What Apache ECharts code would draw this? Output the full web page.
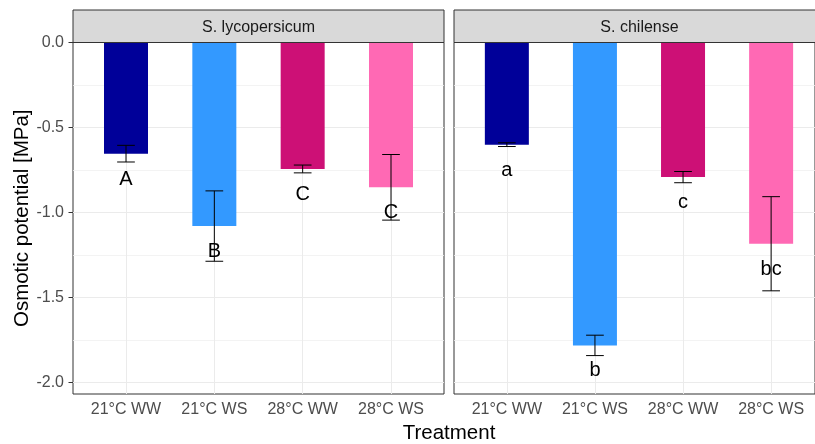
<!DOCTYPE html>
<html>
<head>
<meta charset="utf-8">
<script src="https://cdn.jsdelivr.net/npm/echarts@6/dist/echarts.min.js"></script>
<style>
html,body{margin:0;padding:0;background:#fff;}
#chart{width:815px;height:444px;}
</style>
</head>
<body>
<div id="chart"></div>
<script>
// ---- data ----
const categories = ['21°C WW', '21°C WS', '28°C WW', '28°C WS'];
const species = ['S. lycopersicum', 'S. chilense'];
const barColors = ['#000099', '#3399FF', '#CD1076', '#FF69B4'];

const lycoMean = [-0.654, -1.080, -0.744, -0.852];
const lycoSE = [0.049, 0.207, 0.023, 0.193];
const lycoLetters = ['A', 'B', 'C', 'C'];
const lycoLetterY = [-0.805, -1.230, -0.893, -1.000];

const chilMean = [-0.601, -1.782, -0.792, -1.184];
const chilSE = [0.011, 0.060, 0.033, 0.277];
const chilLetters = ['a', 'b', 'c', 'bc'];
const chilLetterY = [-0.752, -1.932, -0.942, -1.334];

const yTicks = [0, -0.5, -1.0, -1.5, -2.0];
const yTickLabels = ['0.0', '-0.5', '-1.0', '-1.5', '-2.0'];
const yMinorTicks = [-0.25, -0.75, -1.25, -1.75];
const yMin = -2.068;
const yMax = 0;

// ---- chart ----
const FONT = 'Liberation Sans, Arial, sans-serif';
const chart = echarts.init(document.getElementById('chart'), null, {renderer: 'canvas'});

const panels = [
  {mean: lycoMean, se: lycoSE, letters: lycoLetters, letterY: lycoLetterY},
  {mean: chilMean, se: chilSE, letters: chilLetters, letterY: chilLetterY}
];
const xPos = categories.map((c, i) => i + 1);

const gridLeft = [73, 454];
const gridTop = 42.5;
const gridW = 371;             // full facet width (right facet is cut by the canvas edge)
const gridH = 351.5;
const canvasW = 815;
const xMin = 0.4, xMax = 4.6;
// visible width of each facet (the right facet runs past the canvas edge)
const visW = gridLeft.map(l => Math.min(gridW, canvasW + 1 - l));
const visMax = visW.map(w => xMin + (xMax - xMin) * w / gridW);

const grids = gridLeft.map((l, i) => ({
  left: l, top: gridTop, width: visW[i], height: gridH,
  show: true, borderColor: '#333333', borderWidth: 1, backgroundColor: 'transparent'
}));

const xAxes = panels.map((p, i) => ({
  type: 'value', gridIndex: i, min: xMin, max: visMax[i],
  axisLine: {show: false},
  axisTick: {show: true, customValues: xPos, length: 4, lineStyle: {color: '#333333', width: 1}},
  axisLabel: {
    customValues: xPos, margin: 8,
    formatter: v => categories[Math.round(v) - 1],
    color: '#4D4D4D', fontSize: 16, fontFamily: FONT
  },
  splitLine: {show: true, lineStyle: {color: '#EBEBEB', width: 1}}
}));

const yAxes = [];
panels.forEach((p, i) => {
  yAxes.push({
    type: 'value', gridIndex: i, min: yMin, max: yMax, position: 'left',
    name: i === 0 ? 'Osmotic potential [MPa]' : '',
    nameLocation: 'middle', nameGap: 40,
    nameTextStyle: {color: '#000', fontSize: 20.5, fontFamily: FONT},
    axisLine: {show: false},
    axisTick: {show: i === 0, customValues: yTicks, length: 4.5, lineStyle: {color: '#333333', width: 1}},
    axisLabel: {
      show: i === 0, customValues: yTicks, margin: 9,
      formatter: v => yTickLabels[yTicks.findIndex(t => Math.abs(t - v) < 1e-9)],
      color: '#4D4D4D', fontSize: 16, fontFamily: FONT
    },
    splitLine: {show: true, lineStyle: {color: '#EBEBEB', width: 1}}
  });
  yAxes.push({
    type: 'value', gridIndex: i, min: yMin, max: yMax, position: 'left',
    axisLine: {show: false},
    axisTick: {show: false, customValues: yMinorTicks},
    axisLabel: {show: false, customValues: yMinorTicks},
    splitLine: {show: true, lineStyle: {color: '#F0F0F0', width: 0.8}}
  });
});

const series = [];
panels.forEach((p, i) => {
  series.push({
    type: 'bar', xAxisIndex: i, yAxisIndex: 2 * i, barWidth: 44, z: 2,
    data: p.mean.map((m, j) => ({value: [xPos[j], m], itemStyle: {color: barColors[j]}}))
  });
  series.push({
    type: 'custom', xAxisIndex: i, yAxisIndex: 2 * i, z: 3,
    data: p.mean.map((m, j) => [xPos[j], m, p.se[j]]),
    renderItem: (params, api) => {
      const x = api.value(0), m = api.value(1), s = api.value(2);
      const top = api.coord([x, m + s]);
      const bot = api.coord([x, m - s]);
      const hw = 8.85;
      const ls = {stroke: '#000', lineWidth: 1};
      return {
        type: 'group', children: [
          {type: 'line', shape: {x1: top[0], y1: top[1], x2: bot[0], y2: bot[1]}, style: ls},
          {type: 'line', shape: {x1: top[0] - hw, y1: top[1], x2: top[0] + hw, y2: top[1]}, style: ls},
          {type: 'line', shape: {x1: bot[0] - hw, y1: bot[1], x2: bot[0] + hw, y2: bot[1]}, style: ls}
        ]
      };
    }
  });
  series.push({
    type: 'custom', xAxisIndex: i, yAxisIndex: 2 * i, z: 4,
    data: p.letterY.map((y, j) => [xPos[j], y]),
    renderItem: (params, api) => {
      const c = api.coord([api.value(0), api.value(1)]);
      return {
        type: 'text', x: c[0], y: c[1],
        style: {
          text: p.letters[params.dataIndex], fill: '#000',
          fontSize: 20, fontFamily: FONT, align: 'center', verticalAlign: 'middle'
        }
      };
    }
  });
});

const graphic = [];
gridLeft.forEach((l, i) => {
  graphic.push({
    type: 'rect', z: 10, silent: true,
    shape: {x: l, y: 10, width: gridW, height: gridTop - 10},
    style: {fill: '#D9D9D9', stroke: '#333333', lineWidth: 1}
  });
  graphic.push({
    type: 'text', z: 11, silent: true, x: l + gridW / 2, y: 28,
    style: {text: species[i], fill: '#1A1A1A', fontSize: 16, fontFamily: FONT, align: 'center', verticalAlign: 'middle'}
  });
});
graphic.push({
  type: 'text', z: 11, silent: true, x: (gridLeft[0] + gridLeft[1] + gridW) / 2, y: 433.5,
  style: {text: 'Treatment', fill: '#000', fontSize: 20.5, fontFamily: FONT, align: 'center', verticalAlign: 'middle'}
});

chart.setOption({
  animation: false,
  backgroundColor: '#ffffff',
  textStyle: {fontFamily: FONT},
  grid: grids,
  xAxis: xAxes,
  yAxis: yAxes,
  series: series,
  graphic: graphic
});
</script>
</body>
</html>
